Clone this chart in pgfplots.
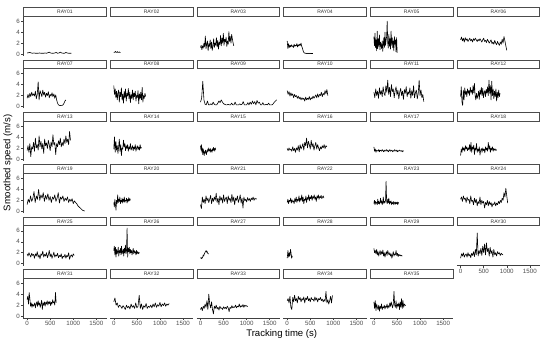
\documentclass[border=0pt]{standalone}
\usepackage{fontspec}
\setmainfont{Liberation Sans}
\usepackage{pgfplots}
\pgfplotsset{compat=1.18}
\pgfplotsset{
  panel/.style={
    width=83.2bp, height=39.7bp, scale only axis, anchor=south west,
    xmin=-82, xmax=1720, ymin=-0.35, ymax=6.9,
    axis line style={black!75, line width=0.5pt, -},
    tick style={black!75, line width=0.5pt},
    major tick length=2bp,
    xtick={0,500,1000,1500}, ytick={0,2,4,6},
    scaled ticks=false,
    tick label style={font=\fontsize{6.2}{7}\selectfont, text=black!70},
    xticklabel style={inner sep=1.2pt},
    yticklabel style={inner sep=1.2pt},
    /pgf/number format/assume math mode=true,
    /pgf/number format/1000 sep={},
    every axis title/.style={at={(0.5,1)}, anchor=south, yshift=0pt,
      draw=black!70, line width=0.55pt, fill=white,
      minimum width=82.6bp, minimum height=8.6bp, inner sep=0pt,
      text=black!80, font=\fontsize{5}{5}\selectfont},
  },
  cell/.style 2 args={at={(23.3bp+#1*86.7bp, 286bp-#2*52.4bp)}},
  yleft/.style={axis y line=left, ytick align=outside,
    every outer y axis line/.append style={-}, every inner y axis line/.append style={-}},
  ynone/.style={axis y line=none, ytick=\empty},
  xbottom/.style={axis x line=bottom, xtick align=outside,
    every outer x axis line/.append style={-}, every inner x axis line/.append style={-}},
  xnone/.style={axis x line=none, xtick=\empty},
  ser/.style={black, line width=0.6pt, line join=round, no marks},
}
\begin{document}
\begin{tikzpicture}
\useasboundingbox (0,0) rectangle (550bp,342bp);
% ---------- row 1
\begin{axis}[panel, cell={0}{0}, yleft, xnone, title=RAY01]
\addplot[ser] table[x expr=\coordindex*30, y index=0, header=false]{
0.2
0.25
0.3
0.2
0.15
0.2
0.15
0.15
0.15
0.2
0.15
0.15
0.15
0.2
0.15
0.25
0.35
0.2
0.15
0.15
0.2
0.3
0.15
0.2
0.35
0.2
0.15
0.15
0.3
0.2
0.15
0.15
0.15
};
\end{axis}
\begin{axis}[panel, cell={1}{0}, ynone, xnone, title=RAY02]
\addplot[ser] table[x expr=\coordindex*10, y index=0, header=false]{
0.3
0.35
0.3
0.4
0.5
0.35
0.3
0.3
0.45
0.35
0.3
0.3
0.4
0.3
0.3
0.3
};
\end{axis}
\begin{axis}[panel, cell={2}{0}, ynone, xnone, title=RAY03]
\addplot[ser] table[x expr=\coordindex*15, y index=0, header=false]{
1.2
1.6
0.8
1.5
1.1
2.0
1.3
3.3
1.0
1.8
2.4
0.6
1.9
1.4
2.6
1.0
2.2
0.7
1.5
2.8
1.2
2.0
1.6
3.0
1.3
2.5
0.9
2.2
1.7
3.4
1.5
2.9
2.0
3.8
1.6
2.7
2.2
3.1
1.4
2.4
1.8
4.1
2.3
3.2
2.0
3.6
2.8
2.1
1.5
};
\end{axis}
\begin{axis}[panel, cell={3}{0}, ynone, xnone, title=RAY04]
\addplot[ser] table[x expr=\coordindex*15, y index=0, header=false]{
2.4
1.0
1.9
1.2
1.6
1.3
1.7
1.4
1.5
1.2
1.8
1.4
1.6
1.5
1.9
1.3
1.7
1.5
1.8
1.6
2.0
1.4
1.1
0.6
0.3
0.2
0.15
0.15
0.1
0.1
0.15
0.1
0.1
0.15
0.1
0.1
0.1
0.1
};
\end{axis}
\begin{axis}[panel, cell={4}{0}, ynone, xnone, title=RAY05]
\addplot[ser] table[x expr=\coordindex*12, y index=0, header=false]{
3.2
1.5
3.8
1.2
2.6
0.6
4.2
1.0
2.8
1.4
3.5
0.8
2.2
1.6
1.0
2.4
0.5
1.8
3.0
1.2
4.0
1.6
2.5
3.2
6.0
2.0
1.1
3.6
1.4
2.8
0.9
4.2
1.6
3.0
1.2
2.4
0.6
3.2
1.8
2.6
0.4
3.0
0.2
};
\end{axis}
\begin{axis}[panel, cell={5}{0}, ynone, xnone, title=RAY06]
\addplot[ser] table[x expr=\coordindex*20, y index=0, header=false]{
2.6
3.1
2.4
2.9
2.2
3.0
2.5
2.8
2.3
2.6
2.9
2.4
2.7
2.2
2.8
2.5
2.9
2.6
2.3
2.7
2.4
2.8
2.5
2.2
2.6
2.9
2.3
2.5
2.1
2.7
2.4
2.0
2.3
2.6
1.9
2.2
1.8
2.5
2.0
1.7
2.3
1.9
1.6
2.2
1.8
2.7
2.0
3.2
2.4
1.5
0.7
};
\end{axis}
% ---------- row 2
\begin{axis}[panel, cell={0}{1}, yleft, xnone, title=RAY07]
\addplot[ser] table[x expr=\coordindex*20, y index=0, header=false]{
1.5
2.2
1.6
2.4
1.8
2.6
2.0
2.3
1.9
2.8
1.4
2.2
4.5
1.2
2.9
2.4
1.8
3.0
2.1
2.6
1.7
2.4
2.0
2.7
1.6
2.2
1.9
2.5
1.8
2.3
1.5
2.1
1.2
0.6
0.3
0.2
0.15
0.2
0.2
0.3
0.6
1.0
1.2
};
\end{axis}
\begin{axis}[panel, cell={1}{1}, ynone, xnone, title=RAY08]
\addplot[ser] table[x expr=\coordindex*15, y index=0, header=false]{
3.8
2.2
3.2
1.6
2.8
1.2
2.4
3.0
0.8
2.6
1.8
3.4
1.2
2.2
0.6
2.8
1.6
3.2
1.0
2.4
1.9
3.3
1.4
2.6
0.7
2.2
1.5
3.0
1.2
2.5
1.8
2.8
1.0
2.1
1.6
2.9
0.5
2.3
1.4
2.6
1.2
3.5
0.8
2.0
1.5
2.4
1.8
};
\end{axis}
\begin{axis}[panel, cell={2}{1}, ynone, xnone, title=RAY09]
\addplot[ser] table[x expr=\coordindex*25, y index=0, header=false]{
0.8
1.5
4.6
1.2
0.4
0.3
1.0
0.3
0.3
0.5
0.3
0.8
0.4
0.3
0.3
0.6
1.0
0.7
1.2
0.8
0.5
0.4
0.3
0.3
0.4
0.3
0.3
0.6
0.3
0.3
0.8
0.3
0.3
0.3
0.5
0.3
0.4
0.9
0.3
0.3
0.3
0.7
0.3
0.8
0.4
1.0
0.5
0.9
0.3
1.1
0.6
0.8
0.3
0.3
0.7
0.3
0.3
0.4
0.3
0.6
0.3
0.3
0.3
0.5
0.8
1.0
1.2
};
\end{axis}
\begin{axis}[panel, cell={3}{1}, ynone, xnone, title=RAY10]
\addplot[ser] table[x expr=\coordindex*20, y index=0, header=false]{
2.9
2.2
2.7
1.9
2.5
2.0
2.3
1.6
2.2
1.8
2.0
1.5
1.9
1.4
1.7
1.2
1.6
1.3
1.5
1.0
1.7
1.2
1.5
1.3
1.8
1.2
1.6
1.4
1.9
1.5
1.8
2.1
1.6
2.3
1.7
2.2
2.0
2.6
1.8
2.4
2.1
2.9
2.3
3.1
2.0
};
\end{axis}
\begin{axis}[panel, cell={4}{1}, ynone, xnone, title=RAY11]
\addplot[ser] table[x expr=\coordindex*20, y index=0, header=false]{
2.6
1.6
3.2
2.0
2.8
1.5
3.4
2.2
2.9
1.8
3.6
2.4
2.0
3.8
2.6
4.8
2.2
3.5
1.8
4.0
2.7
3.2
1.6
2.9
3.6
2.1
3.0
1.4
2.6
3.3
2.0
2.8
1.3
3.1
2.4
3.6
1.8
2.7
2.2
3.4
1.5
2.9
2.0
3.8
1.6
2.5
3.0
1.4
2.4
4.8
2.0
3.0
1.6
2.2
0.9
};
\end{axis}
\begin{axis}[panel, cell={5}{1}, ynone, xnone, title=RAY12]
\addplot[ser] table[x expr=\coordindex*15, y index=0, header=false]{
1.8
3.6
0.8
0.2
3.0
1.2
3.4
2.2
2.8
1.8
3.2
2.4
2.9
2.0
3.5
2.6
3.0
2.2
3.8
2.5
4.2
2.0
1.2
2.4
1.5
2.0
2.8
1.3
3.0
2.2
3.5
2.0
3.3
1.6
2.5
2.9
1.8
3.1
2.4
3.6
2.0
4.8
2.4
3.8
1.2
4.6
2.0
3.2
1.4
2.8
1.8
3.2
1.0
2.6
1.6
3.0
1.8
2.4
};
\end{axis}
% ---------- row 3
\begin{axis}[panel, cell={0}{2}, yleft, xnone, title=RAY13]
\addplot[ser] table[x expr=\coordindex*20, y index=0, header=false]{
1.5
2.4
1.2
2.8
0.4
2.2
1.8
3.0
1.4
3.8
2.0
2.6
1.6
4.2
2.2
3.2
1.8
2.8
1.0
3.6
2.4
2.9
1.9
3.4
2.6
1.5
3.1
2.2
4.4
2.6
3.0
0.8
2.8
2.2
3.3
2.6
3.8
2.2
3.0
2.4
3.6
2.8
4.2
3.0
3.6
2.6
5.0
3.4
};
\end{axis}
\begin{axis}[panel, cell={1}{2}, ynone, xnone, title=RAY14]
\addplot[ser] table[x expr=\coordindex*15, y index=0, header=false]{
1.8
4.0
1.2
3.2
1.6
2.4
1.0
2.2
3.6
1.4
2.6
0.6
2.0
1.8
3.4
2.2
2.8
1.5
2.4
1.9
2.6
1.4
2.2
1.8
2.8
1.6
2.0
2.4
1.5
2.2
1.8
2.6
1.4
2.0
2.4
1.7
2.2
1.6
2.6
1.9
2.1
};
\end{axis}
\begin{axis}[panel, cell={2}{2}, ynone, xnone, title=RAY15]
\addplot[ser] table[x expr=\coordindex*10, y index=0, header=false]{
2.4
1.6
2.6
1.2
2.0
0.8
1.8
1.2
0.6
1.4
1.0
1.6
1.2
0.8
1.5
1.3
1.8
1.4
2.0
1.5
1.7
1.2
1.9
1.4
1.6
1.2
1.8
1.5
2.1
1.6
1.9
1.4
2.0
1.7
};
\end{axis}
\begin{axis}[panel, cell={3}{2}, ynone, xnone, title=RAY16]
\addplot[ser] table[x expr=\coordindex*20, y index=0, header=false]{
1.9
1.5
2.0
1.6
1.8
1.4
2.2
1.5
1.9
1.2
2.0
1.6
2.4
1.3
2.6
1.8
2.2
2.8
1.6
3.0
2.4
3.8
2.0
3.2
2.6
1.8
3.4
2.2
2.8
1.6
2.4
3.0
1.8
2.6
2.0
1.5
2.2
1.8
2.4
2.0
2.6
1.9
2.4
2.2
};
\end{axis}
\begin{axis}[panel, cell={4}{2}, ynone, xnone, title=RAY17]
\addplot[ser] table[x expr=\coordindex*15, y index=0, header=false]{
2.2
1.4
1.8
1.2
1.6
1.5
1.4
1.7
1.3
1.6
1.5
1.4
1.7
1.5
1.3
1.6
1.4
1.5
1.7
1.4
1.6
1.3
1.5
1.7
1.4
1.5
1.6
1.3
1.5
1.4
1.7
1.5
1.4
1.6
1.3
1.5
1.4
1.6
1.5
1.4
1.5
1.3
1.5
1.4
};
\end{axis}
\begin{axis}[panel, cell={5}{2}, ynone, xnone, title=RAY18]
\addplot[ser] table[x expr=\coordindex*15, y index=0, header=false]{
0.6
1.8
1.2
2.2
1.6
2.0
1.4
2.4
1.8
2.2
1.5
2.0
1.7
2.6
1.4
3.0
1.2
2.2
1.8
2.5
0.8
2.0
1.6
2.8
1.2
1.8
1.4
2.2
0.7
1.6
1.9
1.2
2.0
1.5
1.8
1.1
2.2
1.6
2.0
1.4
3.0
1.8
2.4
1.2
2.0
1.6
2.2
1.4
1.9
1.6
1.8
1.5
1.7
};
\end{axis}
% ---------- row 4
\begin{axis}[panel, cell={0}{3}, yleft, xnone, title=RAY19]
\addplot[ser] table[x expr=\coordindex*25, y index=0, header=false]{
1.2
2.2
1.6
2.8
1.8
2.4
3.6
1.6
2.8
2.2
4.0
2.0
3.0
2.4
3.4
1.8
2.9
2.2
3.2
2.0
2.7
1.6
2.6
2.2
3.0
1.8
2.4
3.4
1.5
2.6
2.2
2.8
1.8
2.4
2.0
2.6
1.6
2.2
1.8
2.3
1.4
1.9
1.6
1.4
1.0
0.8
0.6
0.4
0.2
0.1
0.05
};
\end{axis}
\begin{axis}[panel, cell={1}{3}, ynone, xnone, title=RAY20]
\addplot[ser] table[x expr=\coordindex*12, y index=0, header=false]{
1.6
0.8
2.2
1.2
0.2
2.0
1.4
3.0
1.6
2.2
1.8
2.6
1.4
2.0
1.7
2.4
1.5
2.2
1.8
2.6
1.6
2.0
1.9
2.4
1.5
2.2
1.8
2.5
1.9
2.3
2.0
};
\end{axis}
\begin{axis}[panel, cell={2}{3}, ynone, xnone, title=RAY21]
\addplot[ser] table[x expr=\coordindex*20, y index=0, header=false]{
1.2
0.5
2.6
1.6
2.2
1.4
2.8
1.9
2.4
1.6
2.2
2.9
1.4
2.4
1.8
2.6
2.0
3.3
1.6
2.4
1.2
2.8
2.0
2.5
1.5
3.0
1.8
2.3
2.6
1.4
2.8
2.0
2.4
1.6
3.1
1.8
2.6
1.2
2.4
2.0
2.8
1.6
2.2
3.0
1.5
2.4
0.6
2.6
1.9
2.2
1.7
2.5
2.0
2.3
1.8
2.4
2.1
2.6
2.0
2.4
2.2
2.3
};
\end{axis}
\begin{axis}[panel, cell={3}{3}, ynone, xnone, title=RAY22]
\addplot[ser] table[x expr=\coordindex*15, y index=0, header=false]{
1.6
2.2
1.4
2.0
1.8
2.4
1.5
2.1
1.7
1.9
1.4
2.3
1.8
2.6
1.6
2.2
1.9
2.8
1.7
2.4
2.0
3.0
1.8
2.6
1.4
2.2
2.0
2.8
1.6
2.5
2.2
3.0
1.9
2.6
2.3
2.9
2.0
2.7
2.4
3.0
2.2
2.6
1.8
2.8
2.4
3.0
2.2
2.7
2.5
2.9
2.3
2.6
2.8
2.4
};
\end{axis}
\begin{axis}[panel, cell={4}{3}, ynone, xnone, title=RAY23]
\addplot[ser] table[x expr=\coordindex*12, y index=0, header=false]{
1.4
2.0
1.2
1.8
1.5
1.6
1.2
2.2
1.4
1.8
1.3
1.6
2.4
1.5
1.9
1.2
1.7
2.6
1.4
1.8
1.6
2.0
5.5
1.8
1.4
2.2
1.6
2.4
1.3
1.8
1.5
1.9
1.2
1.6
1.4
1.8
1.2
1.5
1.7
1.3
1.6
1.4
1.7
1.2
1.6
1.5
};
\end{axis}
\begin{axis}[panel, cell={5}{3}, ynone, xnone, title=RAY24]
\addplot[ser] table[x expr=\coordindex*20, y index=0, header=false]{
2.2
2.6
1.8
2.8
2.2
2.4
1.6
2.6
2.0
2.2
1.4
2.8
1.8
2.0
1.2
2.4
1.6
2.2
1.0
1.8
1.4
2.6
1.2
2.0
1.5
1.8
0.6
1.6
1.2
2.0
1.0
1.8
1.2
1.6
0.8
1.4
1.2
1.7
1.0
1.5
1.2
1.8
1.4
2.0
1.6
2.4
2.0
3.4
2.6
4.2
2.8
1.5
};
\end{axis}
% ---------- row 5
\begin{axis}[panel, cell={0}{4}, yleft, xnone, title=RAY25]
\addplot[ser] table[x expr=\coordindex*20, y index=0, header=false]{
1.8
1.4
2.0
1.6
1.2
1.9
1.5
1.7
1.0
1.8
1.4
2.2
1.2
1.6
0.9
1.8
1.5
2.3
1.2
1.7
1.4
2.0
1.1
1.6
2.4
1.3
1.8
1.0
1.5
2.1
1.2
1.6
1.4
1.9
1.1
1.5
1.3
1.8
0.9
1.4
1.2
1.7
1.0
1.5
1.3
2.0
0.8
1.4
1.6
1.2
1.8
1.5
};
\end{axis}
\begin{axis}[panel, cell={1}{4}, ynone, xnone, title=RAY26]
\addplot[ser] table[x expr=\coordindex*12, y index=0, header=false]{
2.4
3.2
1.6
3.0
1.2
2.6
1.8
2.2
3.0
1.4
2.4
2.0
2.8
1.6
3.2
1.8
2.2
2.6
1.4
2.8
2.0
3.4
1.8
2.4
6.5
1.2
2.8
2.2
3.0
1.8
2.6
2.0
2.4
1.6
2.2
2.8
1.8
2.4
2.0
2.2
1.6
2.4
1.8
2.2
2.0
1.8
2.1
};
\end{axis}
\begin{axis}[panel, cell={2}{4}, ynone, xnone, title=RAY27]
\addplot[ser] table[x expr=\coordindex*10, y index=0, header=false]{
1.0
1.1
0.9
1.1
1.0
1.3
1.6
1.4
1.7
1.9
2.1
2.2
2.4
2.1
2.3
2.0
1.9
1.8
1.8
};
\end{axis}
\begin{axis}[panel, cell={3}{4}, ynone, xnone, title=RAY28]
\addplot[ser] table[x expr=\coordindex*8, y index=0, header=false]{
1.0
1.6
2.4
1.8
1.2
1.6
2.0
1.4
1.8
2.6
2.2
1.6
1.0
1.4
1.2
};
\end{axis}
\begin{axis}[panel, cell={4}{4}, ynone, xnone, title=RAY29]
\addplot[ser] table[x expr=\coordindex*15, y index=0, header=false]{
2.8
2.0
2.4
1.8
2.6
1.6
2.2
1.4
2.0
2.4
1.6
2.2
1.8
2.5
1.4
2.0
1.2
1.8
2.2
1.5
2.4
1.9
1.6
2.0
1.4
1.8
1.0
1.6
2.2
1.4
1.8
1.6
2.4
1.5
1.9
1.3
1.7
1.5
1.6
1.4
1.5
1.4
};
\end{axis}
\begin{axis}[panel, cell={5}{4}, ynone, xbottom, title=RAY30]
\addplot[ser] table[x expr=\coordindex*20, y index=0, header=false]{
1.0
1.8
1.4
2.0
1.2
1.6
1.8
1.2
2.0
1.4
1.7
1.1
1.9
1.5
2.2
1.3
2.6
1.6
5.6
1.4
2.4
1.8
2.8
1.5
3.2
2.0
3.6
1.6
3.8
2.2
2.8
1.4
3.0
1.8
2.4
1.2
2.6
1.6
2.0
1.4
2.2
1.8
2.0
1.5
1.9
1.7
1.6
};
\end{axis}
% ---------- row 6
\begin{axis}[panel, cell={0}{5}, yleft, xbottom, title=RAY31]
\addplot[ser] table[x expr=\coordindex*15, y index=0, header=false]{
3.0
3.6
2.2
4.3
3.2
1.8
2.4
1.6
2.2
1.8
2.0
2.4
1.5
2.2
2.6
1.8
2.8
2.0
2.4
1.6
2.2
2.9
1.2
2.4
2.0
2.6
1.8
2.5
2.2
2.8
2.0
2.6
2.3
2.7
1.9
2.5
2.2
3.0
2.4
2.6
2.0
4.3
2.4
};
\end{axis}
\begin{axis}[panel, cell={1}{5}, ynone, xbottom, title=RAY32]
\addplot[ser] table[x expr=\coordindex*25, y index=0, header=false]{
2.6
3.3
2.0
2.4
1.6
2.0
1.8
1.4
1.9
1.6
1.2
2.0
1.5
1.8
1.3
2.2
1.6
1.9
1.4
2.4
1.5
1.8
3.8
1.4
2.2
1.2
1.9
1.6
2.3
1.4
1.8
1.6
2.0
1.5
2.2
1.7
2.4
1.6
2.1
1.8
2.5
1.7
2.2
1.9
2.4
1.8
2.2
2.0
2.3
};
\end{axis}
\begin{axis}[panel, cell={2}{5}, ynone, xbottom, title=RAY33]
\addplot[ser] table[x expr=\coordindex*20, y index=0, header=false]{
1.2
1.6
1.0
1.8
1.4
2.2
1.6
2.8
1.2
4.0
2.2
1.5
2.6
1.2
0.4
1.8
1.4
2.0
1.3
1.6
1.1
1.8
1.4
1.5
1.2
1.7
1.4
1.6
1.3
1.8
1.5
0.8
1.6
1.4
1.9
1.5
1.7
1.6
2.0
1.5
1.8
1.7
2.2
1.6
1.9
1.7
2.1
1.6
2.0
1.8
1.9
1.7
};
\end{axis}
\begin{axis}[panel, cell={3}{5}, ynone, xbottom, title=RAY34]
\addplot[ser] table[x expr=\coordindex*20, y index=0, header=false]{
2.8
3.2
2.4
3.6
1.6
1.2
3.4
2.6
3.8
2.8
3.2
2.4
3.6
3.0
3.4
2.6
3.2
2.9
3.5
2.4
3.3
3.0
3.6
2.8
3.2
2.6
3.4
3.0
3.1
2.7
3.5
2.9
3.3
2.6
3.2
3.0
3.4
2.8
3.1
2.6
3.0
2.7
4.5
2.4
3.0
2.2
2.8
3.6
2.4
3.8
};
\end{axis}
\begin{axis}[panel, cell={4}{5}, ynone, xbottom, title=RAY35]
\addplot[ser] table[x expr=\coordindex*15, y index=0, header=false]{
2.6
1.4
2.8
1.0
2.2
1.6
1.2
2.0
0.9
1.8
1.4
2.2
1.2
1.7
1.5
2.0
1.3
1.8
1.6
2.2
1.4
1.9
1.6
2.4
1.8
2.6
2.0
1.5
2.2
4.5
2.0
1.6
2.8
1.4
2.2
1.8
2.4
1.2
2.6
1.6
3.2
1.4
2.8
1.6
2.2
2.0
1.9
};
\end{axis}
% ---------- shared axis titles
\node[rotate=90, font=\fontsize{9.6}{11}\selectfont, text=black] at (8bp,179bp) {Smoothed speed (m/s)};
\node[font=\fontsize{9.6}{11}\selectfont, text=black] at (281.7bp,8bp) {Tracking time (s)};
\end{tikzpicture}
\end{document}
